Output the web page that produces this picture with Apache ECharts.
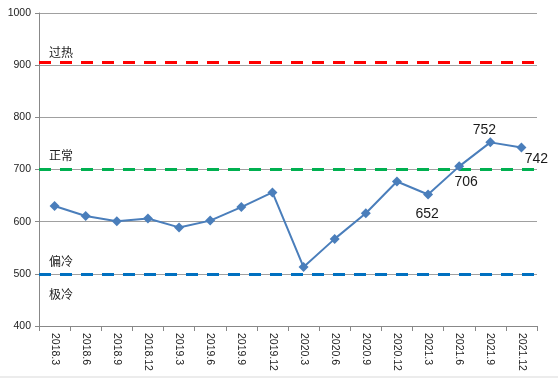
<!DOCTYPE html>
<html><head><meta charset="utf-8">
<script src="https://cdn.jsdelivr.net/npm/echarts@6/dist/echarts.min.js"></script>
<style>html,body{margin:0;padding:0;background:#fff}#c{width:558px;height:380px}</style>
</head><body><div id="c"></div>
<script>
var categories = ['2018.3','2018.6','2018.9','2018.12','2019.3','2019.6','2019.9','2019.12','2020.3','2020.6','2020.9','2020.12','2021.3','2021.6','2021.9','2021.12'];
var values = [630, 611, 601, 606, 589, 602, 628, 656, 513, 567, 616, 677, 652, 706, 752, 742];
var labelledIdx = [12, 13, 14, 15];
var labelOffsets = {12: [-1, 20], 13: [7, 16], 14: [-6, -12], 15: [15, 12]};
var yTicks = {min: 400, max: 1000, interval: 100};
var thresholds = [
  {value: 905, name: '过热', color: '#ff0000', pos: 'insideStartTop'},
  {value: 700, name: '正常', color: '#00b050', pos: 'insideStartTop'},
  {value: 500, name: '偏冷', color: '#0070c0', pos: 'insideStartTop'},
  {value: 500, name: '极冷', color: '#0070c0', pos: 'insideStartBottom'}
];
var labelDist = {'过热': [10, 4], '正常': [10, 8], '偏冷': [10, 6], '极冷': [10, 15]};

var chart = echarts.init(document.getElementById('c'));
var seriesData = values.map(function (v, i) {
  var d = {value: v};
  if (labelledIdx.indexOf(i) >= 0) {
    d.label = {show: true, position: 'inside', offset: labelOffsets[i],
      fontSize: 14, color: '#1a1a1a', fontFamily: 'Liberation Sans'};
  }
  return d;
});
chart.setOption({
  animation: false,
  grid: {left: 39, right: 21, top: 13, bottom: 54},
  xAxis: {
    type: 'category', data: categories, boundaryGap: true,
    axisLine: {lineStyle: {color: '#888', width: 1}},
    axisTick: {show: true, length: 5, lineStyle: {color: '#888'}},
    axisLabel: {rotate: -90, margin: 7, fontSize: 10.5, color: '#222', fontFamily: 'Liberation Sans'}
  },
  yAxis: {
    type: 'value', min: yTicks.min, max: yTicks.max, interval: yTicks.interval,
    axisLine: {show: true, lineStyle: {color: '#888'}},
    axisTick: {show: true, length: 4, lineStyle: {color: '#888'}},
    axisLabel: {margin: 8, fontSize: 10.5, color: '#222', fontFamily: 'Liberation Sans',
      formatter: function (v) { return String(v); }},
    splitLine: {lineStyle: {color: '#a0a0a0', width: 1}}
  },
  series: [{
    type: 'line', data: seriesData, z: 5,
    symbol: 'diamond', symbolSize: 10,
    lineStyle: {color: '#4a7ebb', width: 2},
    itemStyle: {color: '#4a7ebb'},
    markLine: {
      silent: true, symbol: 'none', z: 3,
      data: thresholds.map(function (t) {
        return {yAxis: t.value,
          lineStyle: {color: t.color, width: 3, type: [12, 9]},
          label: {show: true, formatter: t.name, position: t.pos, distance: labelDist[t.name],
            fontSize: 12, color: '#222', fontFamily: 'Noto Sans CJK SC'}};
      })
    }
  }],
  graphic: [{type: 'line', shape: {x1: 0, y1: 377, x2: 558, y2: 377}, style: {stroke: '#d9d9d9', lineWidth: 1}}]
});
</script></body></html>
